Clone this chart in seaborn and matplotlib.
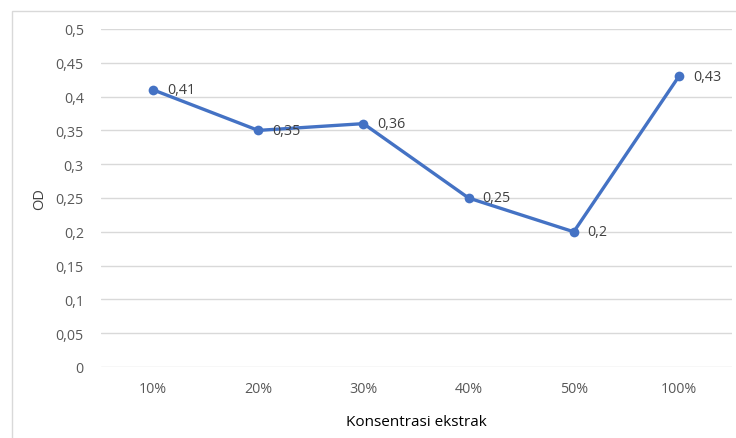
import matplotlib
matplotlib.use("Agg")
import matplotlib.pyplot as plt
import seaborn as sns
import pandas as pd
from matplotlib.ticker import FuncFormatter, MultipleLocator
from matplotlib.patches import Rectangle

categories = ["10%", "20%", "30%", "40%", "50%", "100%"]
od_values = [0.41, 0.35, 0.36, 0.25, 0.20, 0.43]
label_texts = ["0,41", "0,35", "0,36", "0,25", "0,2", "0,43"]

sns.set_theme(style="white")
plt.rcParams['font.family'] = ['Open Sans', 'DejaVu Sans']

df = pd.DataFrame({"Konsentrasi": categories, "OD": od_values})

fig = plt.figure(figsize=(7.36, 4.39), dpi=100)
fig.patch.set_facecolor("white")
# chart frame
fig.patches.append(Rectangle((12/736, -0.1), 1.0, (439-12)/439 + 0.1,
                             transform=fig.transFigure, fill=False,
                             edgecolor="#D9D9D9", linewidth=1.0))
ax = fig.add_axes([100.5/736, 71/439, 631/736, 338/439])

sns.lineplot(data=df, x="Konsentrasi", y="OD", ax=ax, sort=False,
             color="#4472C4", linewidth=2.4, marker="o", markersize=7,
             markeredgewidth=0, zorder=3)

for i, (v, t) in enumerate(zip(od_values, label_texts)):
    ax.annotate(t, (i, v), xytext=(10, 0), textcoords="offset points",
                ha="left", va="center", fontsize=10.3, color="#404040")

ax.set_xlim(-0.5, len(categories) - 0.5)
ax.set_ylim(0, 0.5)
ax.yaxis.set_major_locator(MultipleLocator(0.05))
ax.yaxis.set_major_formatter(FuncFormatter(lambda v, p: f"{round(v, 2):g}".replace(".", ",")))
ax.grid(axis="y", color="#D9D9D9", linewidth=1.0)
ax.grid(axis="x", visible=False)
for s in ax.spines.values():
    s.set_visible(False)
ax.tick_params(axis="both", length=0, labelsize=10.3, labelcolor="#595959")
ax.tick_params(axis="y", pad=12)
ax.tick_params(axis="x", pad=10)
ax.set_xlabel("Konsentrasi ekstrak", fontsize=11, color="#000000", labelpad=13)
ax.set_ylabel("OD", fontsize=10.5, color="#404040", labelpad=6)

fig.savefig("out.png", dpi=100, facecolor="white")
